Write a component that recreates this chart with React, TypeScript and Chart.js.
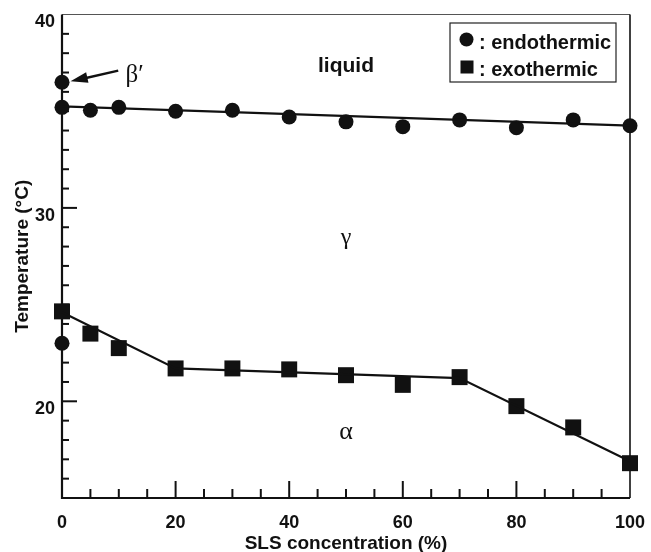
import React, { useEffect, useRef } from "react";
import { Chart, registerables } from "chart.js";

Chart.register(...registerables);

// ---- data ----
const endoX = [0, 0, 0, 5, 10, 20, 30, 40, 50, 60, 70, 80, 90, 100];
const endoY = [36.5, 35.2, 23.0, 35.05, 35.2, 35.0, 35.05, 34.7, 34.45, 34.2, 34.55, 34.15, 34.55, 34.25];
const exoX = [0, 5, 10, 20, 30, 40, 50, 60, 70, 80, 90, 100];
const exoY = [24.65, 23.5, 22.75, 21.7, 21.7, 21.65, 21.35, 20.85, 21.25, 19.75, 18.65, 16.8];
const endoFitX = [0, 100];
const endoFitY = [35.25, 34.25];
const exoFitX = [0, 20, 70, 100];
const exoFitY = [24.6, 21.7, 21.2, 16.9];
const xTickValues = [0, 20, 40, 60, 80, 100];
const yTickValues = [20, 30, 40];
const xMinorStep = 5;
const yMinorStep = 1;
const xRange = [0, 100];
const yRange = [15, 40];
const legendLabels = [": endothermic", ": exothermic"];
const xTitle = "SLS concentration (%)";
const yTitle = "Temperature (°C)";

const zip = (xs: number[], ys: number[]) => xs.map((x, i) => ({ x, y: ys[i] }));

const SANS = "'Liberation Sans', Arial, sans-serif";
const SERIF = "'Liberation Serif', 'Times New Roman', serif";

const decorPlugin = {
  id: "decor",
  beforeDatasetsDraw(chart: any) {
    const { ctx, chartArea: a, scales } = chart;
    const xs = scales.x;
    const ys = scales.y;
    ctx.save();
    // frame
    ctx.lineWidth = 1;
    ctx.strokeStyle = "#555";
    ctx.beginPath();
    ctx.moveTo(a.left, a.top);
    ctx.lineTo(a.right, a.top);
    ctx.stroke();
    ctx.strokeStyle = "#111";
    ctx.lineWidth = 1.6;
    ctx.beginPath();
    ctx.moveTo(a.right, a.top);
    ctx.lineTo(a.right, a.bottom);
    ctx.stroke();
    ctx.lineWidth = 2.2;
    ctx.beginPath();
    ctx.moveTo(a.left, a.top);
    ctx.lineTo(a.left, a.bottom);
    ctx.lineTo(a.right, a.bottom);
    ctx.stroke();
    // inward ticks
    ctx.lineWidth = 2;
    for (let v = xRange[0]; v <= xRange[1]; v += xMinorStep) {
      const px = xs.getPixelForValue(v);
      const major = xTickValues.includes(v);
      if (v === xRange[0] || v === xRange[1]) continue;
      ctx.beginPath();
      ctx.moveTo(px, a.bottom);
      ctx.lineTo(px, a.bottom - (major ? 17 : 9));
      ctx.stroke();
    }
    for (let v = yRange[0]; v <= yRange[1]; v += yMinorStep) {
      const py = ys.getPixelForValue(v);
      const major = yTickValues.includes(v);
      if (v === yRange[0] || v === yRange[1]) continue;
      ctx.beginPath();
      ctx.moveTo(a.left, py);
      ctx.lineTo(a.left + (major ? 15 : 7), py);
      ctx.stroke();
    }
    ctx.restore();
  },
  afterDraw(chart: any) {
    const { ctx, scales } = chart;
    const xs = scales.x;
    const ys = scales.y;
    const P = (x: number, y: number) => [xs.getPixelForValue(x), ys.getPixelForValue(y)];
    ctx.save();
    ctx.fillStyle = "#111";
    ctx.textAlign = "center";
    ctx.textBaseline = "middle";
    // region labels
    let [lx, ly] = P(50, 37.35);
    ctx.font = `bold 21px ${SANS}`;
    ctx.fillText("liquid", lx, ly);
    [lx, ly] = P(50, 28.45);
    ctx.font = `24px ${SERIF}`;
    ctx.fillText("γ", lx, ly);
    [lx, ly] = P(50, 18.4);
    ctx.font = `26px ${SERIF}`;
    ctx.fillText("α", lx, ly);
    // beta prime with arrow
    [lx, ly] = P(12.8, 36.85);
    ctx.font = `25px ${SERIF}`;
    ctx.fillText("β′", lx, ly);
    const [ax0, ay0] = P(9.9, 37.1);
    const [ax1, ay1] = P(1.5, 36.55);
    ctx.strokeStyle = "#111";
    ctx.lineWidth = 2.4;
    ctx.beginPath();
    ctx.moveTo(ax0, ay0);
    ctx.lineTo(ax1 + 10, ay1 - 2);
    ctx.stroke();
    const ang = Math.atan2(ay1 - ay0, ax1 - ax0);
    ctx.beginPath();
    ctx.moveTo(ax1, ay1);
    ctx.lineTo(ax1 - 18 * Math.cos(ang - 0.3), ay1 - 18 * Math.sin(ang - 0.3));
    ctx.lineTo(ax1 - 18 * Math.cos(ang + 0.3), ay1 - 18 * Math.sin(ang + 0.3));
    ctx.closePath();
    ctx.fill();

    // legend box
    const bx = 450, by = 23, bw = 166, bh = 59;
    ctx.fillStyle = "#fff";
    ctx.fillRect(bx, by, bw, bh);
    ctx.strokeStyle = "#222";
    ctx.lineWidth = 1.2;
    ctx.strokeRect(bx, by, bw, bh);
    ctx.fillStyle = "#111";
    ctx.beginPath();
    ctx.arc(bx + 16.5, by + 16.5, 7, 0, Math.PI * 2);
    ctx.fill();
    ctx.fillRect(bx + 10.5, by + 37.5, 13, 13);
    ctx.font = `bold 20px ${SANS}`;
    ctx.textAlign = "left";
    ctx.fillText(legendLabels[0], bx + 29, by + 20);
    ctx.fillText(legendLabels[1], bx + 29, by + 47);
    ctx.restore();
  },
};

export default function App() {
  const ref = useRef<HTMLCanvasElement | null>(null);
  useEffect(() => {
    if (!ref.current) return;
    const chart = new Chart(ref.current, {
      type: "scatter",
      data: {
        datasets: [
          {
            label: "endothermic fit",
            data: zip(endoFitX, endoFitY),
            showLine: true,
            borderColor: "#111",
            borderWidth: 2.2,
            pointRadius: 0,
            clip: false,
          } as any,
          {
            label: "exothermic fit",
            data: zip(exoFitX, exoFitY),
            showLine: true,
            borderColor: "#111",
            borderWidth: 2.2,
            pointRadius: 0,
            clip: false,
          },
          {
            label: "endothermic",
            data: zip(endoX, endoY),
            pointStyle: "circle",
            pointRadius: 7.5,
            backgroundColor: "#111",
            borderColor: "#111",
            borderWidth: 0,
            clip: false,
          },
          {
            label: "exothermic",
            data: zip(exoX, exoY),
            pointStyle: "rect",
            pointRadius: 11.3,
            backgroundColor: "#111",
            borderColor: "#111",
            borderWidth: 0,
            clip: false,
          },
        ],
      },
      options: {
        animation: false,
        responsive: true,
        maintainAspectRatio: false,
        layout: { padding: { top: 14.5, right: 21, left: 0, bottom: 0 } },
        plugins: { legend: { display: false }, tooltip: { enabled: false } },
        scales: {
          x: {
            type: "linear",
            min: xRange[0],
            max: xRange[1],
            afterBuildTicks: (s: any) => {
              s.ticks = xTickValues.map((v) => ({ value: v }));
            },
            afterFit: (s: any) => {
              s.height = 54;
              s.paddingLeft = 0;
              s.paddingRight = 0;
            },
            grid: { display: false, drawTicks: false },
            border: { display: false },
            ticks: {
              color: "#111",
              font: { family: SANS, size: 18, weight: "bold" },
              padding: 14,
              maxRotation: 0,
              autoSkip: false,
            },
            title: {
              display: true,
              text: xTitle,
              color: "#111",
              font: { family: SANS, size: 19, weight: "bold", lineHeight: 1 },
              padding: { top: 0, bottom: -1 },
            },
          },
          y: {
            type: "linear",
            min: yRange[0],
            max: yRange[1],
            afterBuildTicks: (s: any) => {
              s.ticks = yTickValues.map((v) => ({ value: v }));
            },
            afterFit: (s: any) => {
              s.width = 62;
              s.paddingTop = 0;
              s.paddingBottom = 0;
            },
            grid: { display: false, drawTicks: false },
            border: { display: false },
            ticks: {
              color: "#111",
              font: { family: SANS, size: 18, weight: "bold" },
              padding: 7,
              labelOffset: 8,
              autoSkip: false,
            },
            title: {
              display: true,
              text: yTitle,
              color: "#111",
              font: { family: SANS, size: 19, weight: "bold", lineHeight: 1 },
              padding: { top: 13, bottom: 0 },
            },
          },
        },
      },
      plugins: [decorPlugin],
    });
    return () => chart.destroy();
  }, []);
  return (
    <div style={{ position: "fixed", left: 0, top: 0, width: 651, height: 552, background: "#fff" }}>
      <canvas ref={ref} />
    </div>
  );
}
